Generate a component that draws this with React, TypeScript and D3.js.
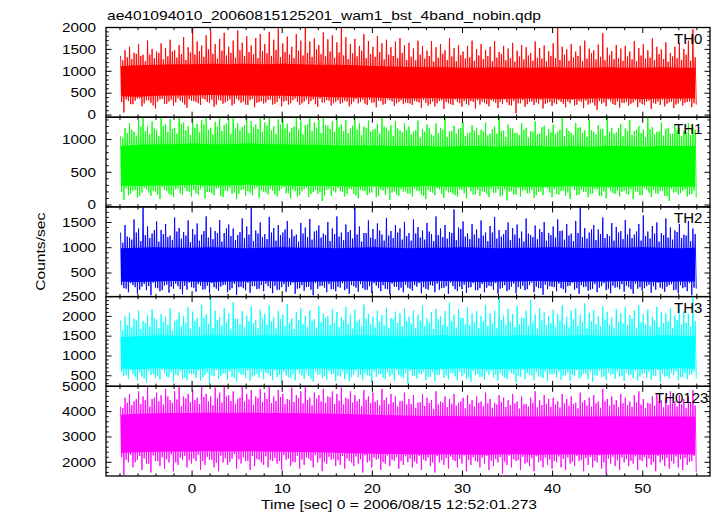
import React from 'react';
import * as d3 from 'd3';

const TITLE = 'ae401094010_20060815125201_wam1_bst_4band_nobin.qdp';
const X_LABEL = 'Time [sec] 0 = 2006/08/15 12:52:01.273';
const Y_LABEL = 'Counts/sec';
const BANDS = ['TH0', 'TH1', 'TH2', 'TH3', 'TH0123'];
const COLORS = ['#ff0000', '#00ff00', '#0000ff', '#00ffff', '#ff00ff'];
const Y_DOMAINS = [[-48, 2000], [-29, 1342], [33, 1808], [234, 2500], [1461, 5000]];
const Y_MAJOR = [[0, 500, 1000, 1500, 2000], [0, 500, 1000], [500, 1000, 1500], [500, 1000, 1500, 2000, 2500], [2000, 3000, 4000, 5000]];
const Y_MINOR_STEP = [100, 100, 100, 100, 200];
const X_DOMAIN = [-9.55, 57.46];
const X_MAJOR = [0, 10, 20, 30, 40, 50];
const X_MINOR_STEP = 2;

// per-bin extremes: bin i is centred on t = -7.75 + 0.5*i
const BIN_T0 = -7.75;
const BIN_DT = 0.5;

// dense-band core, sampled at these times
const CORE_T = [-7.9, -6, -4, -2, 0, 2, 4, 6, 8, 10, 12, 14, 16, 18, 20, 22, 24, 26, 28, 30, 32, 34, 36, 38, 40, 42, 44, 46, 48, 50, 52, 54, 55.8];

const TH0_HI = [1120, 1140, 1150, 1160, 1160, 1170, 1160, 1170, 1160, 1170, 1160, 1150, 1150, 1140, 1120, 1110, 1100, 1090, 1090, 1080, 1080, 1090, 1080, 1080, 1090, 1080, 1080, 1090, 1080, 1080, 1090, 1080, 1080];
const TH0_LO = [430, 420, 440, 450, 450, 460, 450, 450, 440, 440, 430, 420, 410, 400, 400, 390, 380, 390, 380, 380, 380, 370, 380, 380, 380, 370, 380, 380, 380, 370, 380, 380, 380];
const TH1_HI = [900, 920, 930, 930, 940, 930, 930, 940, 930, 930, 920, 920, 910, 910, 910, 900, 900, 900, 890, 900, 900, 890, 900, 900, 890, 900, 890, 900, 900, 890, 900, 900, 900];
const TH1_LO = [300, 290, 300, 300, 310, 300, 300, 310, 300, 300, 290, 290, 290, 280, 290, 280, 280, 290, 280, 280, 280, 290, 280, 280, 280, 290, 280, 280, 280, 290, 280, 280, 280];
const TH2_HI = [990, 1000, 1010, 1000, 1000, 1010, 1000, 990, 1000, 1010, 1000, 1000, 990, 1000, 1010, 1000, 990, 1000, 1000, 1010, 1000, 990, 1000, 1000, 1010, 1000, 990, 1000, 1000, 1010, 1000, 990, 1000];
const TH2_LO = [330, 320, 330, 340, 330, 320, 330, 330, 340, 330, 320, 330, 330, 340, 330, 320, 330, 330, 340, 330, 320, 330, 330, 340, 330, 320, 330, 330, 340, 330, 320, 330, 330];
const TH3_HI = [1480, 1500, 1520, 1510, 1500, 1520, 1510, 1500, 1520, 1510, 1500, 1510, 1500, 1520, 1510, 1500, 1500, 1510, 1520, 1500, 1510, 1500, 1520, 1510, 1500, 1510, 1520, 1500, 1510, 1500, 1520, 1510, 1500];
const TH3_LO = [680, 670, 690, 680, 670, 690, 680, 690, 680, 670, 680, 690, 680, 670, 680, 690, 680, 670, 680, 690, 680, 670, 680, 690, 680, 670, 680, 690, 680, 670, 680, 690, 680];
const TH0123_HI = [3880, 3920, 3940, 3950, 3950, 3960, 3950, 3960, 3950, 3950, 3940, 3930, 3920, 3900, 3880, 3860, 3840, 3830, 3830, 3820, 3820, 3810, 3820, 3810, 3820, 3820, 3810, 3820, 3820, 3810, 3820, 3810, 3800];
const TH0123_LO = [2380, 2400, 2420, 2430, 2430, 2440, 2430, 2440, 2430, 2420, 2410, 2400, 2380, 2360, 2340, 2330, 2320, 2310, 2320, 2310, 2300, 2310, 2320, 2300, 2310, 2320, 2300, 2310, 2320, 2300, 2310, 2320, 2310];

// highest spike in each bin
const TH0_PEAK = [
  1350, 1480, 1560, 1420, 1620, 1380, 1700, 1510, 1450, 1640, 1530, 1720, 1480, 1600, 1780, 1550,
  2000, 1680, 1590, 1820, 1950, 1620, 1740, 1880, 1560, 1700, 1930, 1650, 1800, 1590, 1760, 1850,
  1620, 1900, 1720, 1980, 1640, 1790, 1560, 1850, 1700, 2000, 1680, 1750, 1600, 1890, 1730, 1820,
  1660, 1990, 1780, 1620, 1740, 1580, 1850, 1690, 1560, 1800, 1640, 1720, 1550, 1680, 1760, 1590,
  1650, 1520, 1700, 1580, 1470, 1690, 1550, 1620, 1480, 1760, 1530, 1600, 1450, 1580, 1700, 1510,
  1620, 1480, 1560, 1690, 1440, 1580, 1520, 1650, 1470, 1600, 1550, 1420, 1680, 1530, 1590, 1460,
  1640, 2000, 1560, 1500, 1620, 1450, 1580, 1700, 1520, 1480, 1610, 1870, 1540, 1460, 1600, 1520,
  1580, 1450, 1690, 1530, 1620, 1480, 1750, 1560, 1500, 1660, 1420, 1560, 1640, 1510, 1700, 1960,
];
const TH0_TROUGH = [
  60, 320, 250, 380, 200, 340, 280, 150, 360, 260, 310, 220, 380, 290, 170, 330,
  300, 230, 360, 280, 190, 350, 260, 320, 220, 370, 280, 240, 340, 180, 300, 260,
  350, 240, 300, 200, 330, 270, 380, 230, 310, 250, 360, 190, 290, 340, 220, 300,
  260, 330, 200, 310, 270, 350, 230, 290, 180, 320, 260, 340, 210, 300, 250, 280,
  230, 310, 170, 280, 250, 200, 320, 140, 270, 230, 300, 190, 260, 320, 150, 240,
  280, 200, 310, 160, 250, 290, 220, 40, 270, 190, 300, 230, 260, 150, 280, 210,
  250, 300, 180, 270, 220, 320, 160, 240, 290, 120, 260, 200, 310, 230, 170, 280,
  220, 290, 180, 250, 310, 140, 260, 230, 200, 290, 160, 270, 220, 300, 180, 240,
];
// second-highest / second-lowest spike in each bin
const TH0_PEAK2 = [
  1250, 1320, 1280, 1400, 1350, 1230, 1380, 1300, 1420, 1270, 1340, 1450, 1310, 1390, 1260, 1430,
  1380, 1460, 1330, 1500, 1400, 1290, 1470, 1360, 1420, 1310, 1480, 1350, 1440, 1390, 1300, 1460,
  1410, 1350, 1490, 1320, 1440, 1380, 1300, 1470, 1360, 1420, 1330, 1500, 1390, 1340, 1450, 1310,
  1430, 1360, 1280, 1410, 1340, 1470, 1300, 1390, 1330, 1440, 1270, 1380, 1350, 1300, 1420, 1260,
  1330, 1250, 1380, 1290, 1350, 1220, 1310, 1400, 1260, 1340, 1230, 1370, 1290, 1320, 1240, 1360,
  1280, 1350, 1230, 1310, 1390, 1250, 1300, 1220, 1340, 1270, 1360, 1240, 1310, 1290, 1230, 1350,
  1300, 1260, 1380, 1240, 1320, 1350, 1230, 1290, 1410, 1270, 1330, 1250, 1370, 1280, 1300, 1240,
  1340, 1270, 1230, 1360, 1290, 1310, 1250, 1390, 1280, 1220, 1340, 1300, 1260, 1380, 1240, 1320,
];
const TH0_TROUGH2 = [
  300, 360, 250, 330, 380, 270, 340, 220, 310, 370, 260, 350, 290, 330, 240, 360,
  320, 270, 380, 300, 350, 240, 330, 290, 360, 260, 340, 310, 230, 370, 280, 320,
  290, 350, 260, 380, 310, 240, 340, 300, 270, 360, 320, 250, 380, 290, 330, 270,
  340, 280, 310, 250, 370, 300, 260, 350, 290, 330, 240, 360, 310, 270, 340, 290,
  260, 330, 290, 350, 220, 310, 270, 340, 300, 250, 360, 280, 320, 230, 300, 340,
  310, 250, 340, 280, 300, 360, 230, 320, 270, 340, 250, 310, 290, 350, 260, 300,
  280, 340, 260, 310, 350, 240, 300, 330, 270, 220, 320, 290, 360, 250, 310, 280,
  300, 260, 340, 290, 230, 330, 280, 310, 350, 260, 300, 240, 330, 280, 310, 270,
];

const TH1_PEAK = [
  1050, 1180, 1250, 1120, 1300, 1342, 1200, 1280, 1150, 1342, 1230, 1310, 1180, 1342, 1260, 1200,
  1342, 1240, 1300, 1342, 1180, 1270, 1342, 1220, 1310, 1342, 1250, 1190, 1342, 1280, 1230, 1342,
  1260, 1342, 1200, 1310, 1342, 1240, 1180, 1342, 1290, 1220, 1342, 1260, 1300, 1342, 1210, 1280,
  1342, 1230, 1300, 1170, 1342, 1250, 1200, 1290, 1150, 1240, 1342, 1180, 1220, 1280, 1140, 1250,
  1200, 1120, 1290, 1160, 1230, 1080, 1250, 1180, 1342, 1130, 1210, 1160, 1270, 1100, 1220, 1180,
  1150, 1260, 1090, 1200, 1342, 1140, 1230, 1170, 1100, 1250, 1180, 1130, 1280, 1090, 1210, 1160,
  1230, 1120, 1342, 1170, 1100, 1250, 1190, 1140, 1300, 1120, 1220, 1160, 1342, 1180, 1110, 1240,
  1170, 1300, 1130, 1210, 1150, 1342, 1190, 1120, 1260, 1160, 1090, 1230, 1180, 1130, 1250, 1200,
];
const TH1_TROUGH = [
  80, 150, 220, 110, 190, 240, 140, 200, 90, 230, 170, 120, 250, 160, 210, 130,
  180, 240, 100, 200, 150, 260, 120, 210, 170, 90, 230, 140, 190, 250, 110, 200,
  160, 220, 130, 250, 180, 100, 210, 150, 240, 120, 200, 170, 60, 230, 140, 190,
  210, 130, 250, 170, 100, 220, 150, 190, 120, 240, 160, 80, 210, 140, 200, 170,
  130, 220, 160, 90, 200, 150, 240, 110, 190, 170, 130, 230, 100, 210, 160, 140,
  200, 120, 180, 240, 150, 70, 210, 160, 130, 230, 180, 110, 200, 150, 250, 120,
  170, 210, 140, 90, 230, 160, 200, 120, 180, 240, 140, 100, 210, 170, 130, 220,
  160, 90, 200, 150, 230, 120, 180, 210, 140, 60, 190, 160, 220, 130, 170, 110,
];
const TH1_PEAK2 = [
  1020, 1100, 1150, 1060, 1200, 1130, 1080, 1170, 1050, 1210, 1120, 1160, 1090, 1240, 1140, 1070,
  1180, 1110, 1230, 1150, 1080, 1200, 1130, 1250, 1090, 1170, 1140, 1220, 1100, 1190, 1160, 1120,
  1210, 1140, 1090, 1230, 1170, 1110, 1200, 1150, 1080, 1240, 1130, 1180, 1100, 1220, 1160, 1120,
  1190, 1130, 1100, 1210, 1150, 1070, 1180, 1120, 1160, 1090, 1200, 1140, 1060, 1170, 1110, 1150,
  1080, 1140, 1030, 1120, 1170, 1060, 1100, 1150, 1040, 1130, 1090, 1180, 1050, 1110, 1140, 1070,
  1120, 1060, 1160, 1090, 1130, 1040, 1170, 1100, 1070, 1150, 1030, 1120, 1080, 1190, 1060, 1110,
  1090, 1150, 1050, 1130, 1070, 1180, 1100, 1040, 1140, 1080, 1160, 1060, 1120, 1090, 1170, 1050,
  1130, 1070, 1150, 1100, 1040, 1160, 1080, 1120, 1060, 1180, 1090, 1140, 1050, 1110, 1070, 1150,
];
const TH1_TROUGH2 = [
  200, 250, 170, 230, 140, 260, 190, 220, 160, 270, 210, 150, 240, 180, 260, 200,
  230, 160, 270, 200, 180, 250, 140, 220, 260, 190, 170, 240, 210, 150, 270, 230,
  190, 250, 160, 220, 270, 180, 240, 130, 210, 260, 170, 230, 200, 150, 250, 220,
  260, 200, 170, 240, 150, 230, 210, 180, 270, 140, 220, 250, 190, 160, 240, 210,
  180, 250, 210, 140, 230, 190, 260, 170, 220, 200, 150, 240, 180, 270, 160, 230,
  210, 170, 250, 190, 130, 240, 200, 160, 260, 220, 180, 230, 150, 210, 270, 190,
  240, 160, 220, 190, 270, 150, 230, 200, 170, 250, 140, 210, 260, 180, 220, 200,
  170, 240, 210, 150, 260, 190, 230, 170, 220, 140, 250, 200, 180, 240, 160, 220,
];

const TH2_PEAK = [
  1300, 1450, 1200, 1560, 1380, 1800, 1420, 1280, 1520, 1350, 1470, 1240, 1600, 1390, 1310, 1540,
  1370, 1480, 1260, 1620, 1400, 1330, 1550, 1290, 1460, 1380, 1250, 1580, 1420, 1800, 1340, 1500,
  1270, 1610, 1390, 1450, 1300, 1530, 1360, 1260, 1490, 1400, 1570, 1320, 1440, 1280, 1510, 1380,
  1620, 1300, 1460, 1350, 1800, 1420, 1290, 1540, 1370, 1480, 1260, 1590, 1330, 1450, 1380, 1510,
  1290, 1560, 1410, 1340, 1490, 1270, 1620, 1380, 1450, 1310, 1760, 1400, 1520, 1280, 1470, 1360,
  1540, 1300, 1430, 1610, 1350, 1270, 1500, 1390, 1460, 1320, 1580, 1250, 1440, 1370, 1510, 1290,
  1420, 1560, 1340, 1470, 1280, 1530, 1800, 1390, 1300, 1450, 1360, 1600, 1270, 1490, 1410, 1330,
  1550, 1380, 1260, 1470, 1640, 1320, 1430, 1500, 1290, 1580, 1400, 1340, 1470, 1260, 1530, 1380,
];
const TH2_TROUGH = [
  200, 120, 260, 90, 230, 160, 60, 210, 140, 250, 110, 190, 240, 80, 170, 220,
  130, 250, 180, 100, 220, 150, 260, 120, 200, 70, 230, 160, 110, 240, 190, 140,
  240, 100, 170, 220, 130, 260, 90, 200, 150, 230, 60, 190, 250, 120, 180, 140,
  210, 160, 90, 240, 130, 200, 170, 110, 250, 140, 190, 80, 230, 160, 120, 210,
  150, 230, 100, 190, 260, 120, 170, 210, 90, 240, 140, 180, 110, 220, 160, 200,
  120, 250, 170, 90, 210, 140, 230, 100, 190, 160, 260, 120, 200, 70, 180, 230,
  140, 200, 110, 250, 170, 90, 220, 150, 190, 120, 240, 160, 100, 210, 180, 130,
  220, 90, 190, 150, 240, 110, 170, 210, 130, 260, 160, 100, 200, 140, 60, 190,
];
const TH2_PEAK2 = [
  1100, 1220, 1160, 1300, 1130, 1250, 1190, 1350, 1120, 1270, 1210, 1150, 1320, 1180, 1240, 1110,
  1260, 1140, 1330, 1200, 1170, 1290, 1120, 1380, 1230, 1150, 1310, 1190, 1260, 1130, 1280, 1210,
  1170, 1300, 1140, 1250, 1360, 1190, 1230, 1120, 1280, 1210, 1160, 1340, 1200, 1250, 1130, 1270,
  1220, 1150, 1310, 1180, 1260, 1120, 1290, 1200, 1170, 1340, 1140, 1240, 1190, 1300, 1160, 1230,
  1140, 1280, 1200, 1160, 1320, 1130, 1250, 1210, 1180, 1290, 1150, 1370, 1220, 1170, 1260, 1190,
  1240, 1130, 1300, 1180, 1220, 1350, 1150, 1260, 1190, 1120, 1280, 1210, 1170, 1310, 1140, 1250,
  1200, 1330, 1160, 1240, 1130, 1290, 1210, 1180, 1360, 1150, 1270, 1190, 1230, 1140, 1300, 1170,
  1260, 1190, 1320, 1140, 1230, 1180, 1280, 1120, 1250, 1200, 1160, 1310, 1190, 1240, 1130, 1270,
];
const TH2_TROUGH2 = [
  260, 190, 300, 220, 170, 280, 240, 310, 200, 160, 270, 230, 290, 180, 250, 310,
  210, 280, 170, 250, 300, 190, 230, 270, 160, 290, 220, 200, 310, 240, 180, 260,
  290, 200, 250, 170, 280, 230, 310, 190, 260, 220, 170, 300, 240, 210, 280, 180,
  230, 300, 190, 260, 210, 280, 170, 240, 300, 200, 260, 180, 290, 230, 210, 270,
  190, 260, 300, 220, 170, 250, 290, 200, 240, 310, 180, 230, 270, 210, 300, 160,
  280, 210, 240, 300, 190, 260, 170, 290, 220, 250, 180, 310, 230, 200, 270, 240,
  220, 290, 180, 240, 310, 200, 260, 230, 170, 280, 210, 300, 190, 250, 220, 280,
  250, 180, 290, 220, 200, 270, 240, 310, 190, 230, 280, 170, 260, 220, 300, 210,
];

const TH3_PEAK = [
  1900, 2000, 2080, 1950, 2150, 1880, 2030, 2180, 1920, 2060, 1990, 2200, 1870, 2100, 2010, 2230,
  2120, 1960, 2290, 2050, 2500, 2140, 1980, 2210, 2070, 2360, 1940, 2130, 2020, 2250, 1910, 2170,
  2060, 2280, 1970, 2140, 2040, 2310, 1950, 2100, 2200, 2020, 2160, 1930, 2260, 2080, 2010, 2190,
  2110, 1980, 2240, 2050, 2170, 1920, 2300, 2060, 1990, 2150, 2030, 2220, 1960, 2120, 2080, 2200,
  1990, 2160, 2040, 2270, 1950, 2110, 2190, 2000, 2130, 2350, 2040, 2180, 1960, 2230, 2070, 2140,
  2010, 2290, 2080, 2150, 2500, 2020, 2190, 2060, 2260, 1980, 2140, 2420, 2050, 2200, 2100, 2010,
  2170, 2060, 2280, 1990, 2140, 2210, 2040, 2330, 2090, 2160, 2010, 2250, 2120, 1970, 2190, 2080,
  2230, 2030, 2150, 2280, 2060, 2180, 1990, 2240, 2110, 2070, 2200, 2020, 2310, 2130, 2060, 2500,
];
const TH3_TROUGH = [
  500, 420, 550, 380, 480, 330, 520, 440, 400, 560, 460, 350, 510, 430, 390, 540,
  450, 380, 520, 300, 490, 420, 560, 400, 470, 350, 530, 440, 380, 510, 460, 410,
  540, 390, 470, 330, 510, 440, 380, 560, 420, 490, 350, 520, 450, 400, 540, 370,
  480, 420, 360, 530, 460, 400, 510, 340, 470, 550, 410, 480, 380, 520, 440, 300,
  500, 430, 540, 390, 470, 360, 520, 450, 410, 560, 380, 490, 430, 350, 510, 460,
  400, 530, 450, 380, 500, 420, 560, 340, 470, 410, 520, 390, 480, 440, 360, 530,
  460, 400, 510, 370, 490, 430, 550, 410, 350, 500, 460, 390, 530, 420, 480, 370,
  510, 440, 380, 540, 460, 400, 500, 350, 480, 430, 520, 390, 460, 410, 540, 430,
];
const TH3_PEAK2 = [
  1650, 1780, 1720, 1900, 1680, 1830, 1750, 1950, 1700, 1860, 1790, 1640, 1920, 1760, 1840, 1690,
  1880, 1740, 1970, 1810, 1700, 1900, 1770, 1850, 1660, 1940, 1800, 1730, 1880, 1820, 1710, 1960,
  1790, 1870, 1700, 1930, 1760, 1840, 1680, 1910, 1800, 1740, 1890, 1720, 1850, 1960, 1780, 1830,
  1730, 1900, 1810, 1690, 1870, 1760, 1940, 1800, 1720, 1860, 1780, 1700, 1920, 1830, 1750, 1880,
  1810, 1700, 1890, 1760, 1840, 1680, 1930, 1790, 1740, 1870, 1720, 1960, 1800, 1770, 1850, 1710,
  1880, 1750, 1820, 1700, 1910, 1790, 1860, 1730, 1800, 1950, 1760, 1840, 1690, 1900, 1780, 1830,
  1740, 1890, 1800, 1720, 1930, 1770, 1850, 1690, 1880, 1810, 1750, 1920, 1790, 1700, 1860, 1820,
  1780, 1940, 1710, 1850, 1800, 1760, 1900, 1730, 1830, 1870, 1700, 1910, 1790, 1840, 1750, 1880,
];
const TH3_TROUGH2 = [
  600, 520, 640, 480, 580, 430, 620, 550, 500, 650, 470, 590, 530, 610, 450, 570,
  540, 620, 460, 590, 510, 640, 490, 560, 610, 440, 580, 530, 630, 480, 550, 600,
  570, 490, 630, 520, 600, 460, 550, 640, 510, 580, 430, 610, 540, 490, 620, 560,
  510, 600, 550, 470, 630, 520, 580, 490, 610, 540, 450, 590, 530, 640, 480, 570,
  620, 500, 560, 610, 470, 590, 530, 640, 510, 570, 490, 600, 550, 460, 620, 540,
  480, 590, 630, 520, 560, 450, 610, 540, 500, 640, 570, 510, 590, 470, 600, 550,
  560, 610, 490, 580, 530, 640, 470, 550, 600, 520, 630, 480, 570, 540, 610, 500,
  590, 530, 620, 480, 570, 600, 510, 640, 550, 490, 580, 620, 460, 570, 530, 610,
];

const TH0123_PEAK = [
  4200, 4550, 4700, 4400, 4800, 4600, 5000, 4500, 4750, 4650, 4900, 4450, 4800, 5000, 4600, 4700,
  4850, 4550, 5000, 4700, 4600, 4950, 4750, 5000, 4650, 4800, 4500, 5000, 4700, 4850, 4600, 4900,
  4750, 5000, 4600, 4850, 4700, 4500, 4950, 4650, 4800, 5000, 4550, 4750, 4650, 4900, 4600, 4800,
  4700, 4950, 4550, 4800, 4650, 4500, 4850, 4600, 4750, 4450, 4900, 4550, 4700, 4600, 4400, 4750,
  4500, 4650, 4350, 4700, 4550, 4450, 4800, 4400, 4600, 4500, 4700, 4350, 4550, 4650, 4450, 4600,
  4400, 4750, 4500, 4350, 4650, 4550, 4450, 4700, 4400, 4600, 4300, 4550, 4800, 4450, 4650, 4500,
  4550, 4400, 4700, 4500, 4600, 4350, 4750, 4450, 4550, 4650, 4400, 4900, 4500, 4600, 4450, 4700,
  4550, 4400, 4650, 4800, 4500, 4350, 4600, 4700, 4450, 4550, 4800, 4400, 4650, 4500, 4600, 4850,
];
const TH0123_TROUGH = [
  1500, 2000, 1800, 2100, 1700, 1950, 1600, 2050, 1850, 1750, 2000, 1650, 1900, 2100, 1800, 1950,
  2050, 1700, 1900, 2100, 1800, 1650, 2000, 1900, 2150, 1750, 1950, 2050, 1700, 1850, 2100, 1900,
  1800, 2050, 1950, 1700, 2100, 1850, 2000, 1750, 1900, 2150, 1800, 2000, 1650, 1950, 2100, 1850,
  1900, 1750, 2050, 1850, 1950, 1600, 2000, 1800, 2100, 1700, 1950, 1850, 2050, 1750, 1900, 2000,
  1800, 1950, 1700, 2050, 1850, 1600, 2000, 1900, 1750, 2100, 1800, 1950, 1650, 1900, 2050, 1800,
  1950, 1700, 1850, 2000, 1550, 1900, 1800, 2050, 1700, 1950, 1850, 1650, 2000, 1800, 1900, 1750,
  2000, 1800, 1700, 1950, 1850, 2050, 1650, 1900, 1800, 2000, 1750, 1550, 1950, 1850, 1700, 2000,
  1850, 1950, 1700, 2050, 1800, 1900, 1650, 2000, 1850, 1750, 1950, 1800, 1700, 1900, 2050, 1600,
];
const TH0123_PEAK2 = [
  4150, 4350, 4250, 4500, 4300, 4450, 4200, 4550, 4400, 4280, 4600, 4350, 4480, 4220, 4520, 4380,
  4450, 4300, 4580, 4400, 4250, 4520, 4360, 4600, 4420, 4310, 4550, 4400, 4480, 4270, 4530, 4390,
  4500, 4340, 4420, 4580, 4290, 4470, 4380, 4540, 4320, 4460, 4250, 4510, 4400, 4350, 4560, 4300,
  4430, 4280, 4500, 4360, 4410, 4220, 4470, 4330, 4390, 4250, 4450, 4300, 4370, 4200, 4420, 4280,
  4300, 4150, 4380, 4220, 4340, 4100, 4280, 4360, 4180, 4310, 4240, 4400, 4130, 4290, 4200, 4350,
  4220, 4330, 4150, 4280, 4380, 4180, 4250, 4320, 4120, 4290, 4200, 4350, 4170, 4260, 4310, 4190,
  4280, 4160, 4340, 4220, 4300, 4130, 4370, 4240, 4190, 4320, 4150, 4400, 4230, 4280, 4180, 4330,
  4250, 4190, 4360, 4280, 4140, 4310, 4230, 4390, 4170, 4260, 4330, 4200, 4290, 4150, 4350, 4240,
];
const TH0123_TROUGH2 = [
  2200, 2100, 2300, 2000, 2250, 2150, 1950, 2280, 2050, 2200, 2120, 2320, 2000, 2180, 2260, 2080,
  2150, 2300, 2050, 2220, 2100, 1980, 2270, 2160, 2020, 2330, 2120, 2200, 2060, 2250, 2140, 2000,
  2240, 2100, 2180, 2050, 2300, 2150, 2020, 2260, 2110, 2200, 2070, 2290, 2160, 2030, 2220, 2130,
  2080, 2250, 2150, 2000, 2230, 2120, 2280, 2060, 2190, 2140, 2010, 2270, 2100, 2200, 2050, 2240,
  2150, 2030, 2260, 2110, 2190, 2000, 2240, 2080, 2170, 2230, 2050, 2140, 2280, 2090, 2200, 2020,
  2180, 2250, 2060, 2130, 2210, 2030, 2270, 2120, 2090, 2220, 2000, 2160, 2240, 2070, 2190, 2110,
  2050, 2230, 2140, 2190, 2020, 2260, 2100, 2170, 2210, 2060, 2280, 2000, 2150, 2220, 2080, 2190,
  2130, 2060, 2240, 2100, 2200, 2150, 2010, 2250, 2090, 2180, 2050, 2230, 2120, 2170, 2020, 2260,
];

const PEAKS = [TH0_PEAK, TH1_PEAK, TH2_PEAK, TH3_PEAK, TH0123_PEAK];
const TROUGHS = [TH0_TROUGH, TH1_TROUGH, TH2_TROUGH, TH3_TROUGH, TH0123_TROUGH];
const PEAKS2 = [TH0_PEAK2, TH1_PEAK2, TH2_PEAK2, TH3_PEAK2, TH0123_PEAK2];
const TROUGHS2 = [TH0_TROUGH2, TH1_TROUGH2, TH2_TROUGH2, TH3_TROUGH2, TH0123_TROUGH2];
const CORE_HI = [TH0_HI, TH1_HI, TH2_HI, TH3_HI, TH0123_HI];
const CORE_LO = [TH0_LO, TH1_LO, TH2_LO, TH3_LO, TH0123_LO];

const W = 717;
const H = 516;
const LEFT = 106;
const RIGHT = 710;
const TOP = 27.5;
const PANEL_H = 89.7;
const FONT = "'Liberation Sans', Arial, Helvetica, sans-serif";
const DIGIT_W = 8.5;

export default function App() {
  const x = d3.scaleLinear().domain(X_DOMAIN).range([LEFT, RIGHT]);
  const xMinor = d3.range(Math.ceil(X_DOMAIN[0] / X_MINOR_STEP) * X_MINOR_STEP, X_DOMAIN[1] + 1e-9, X_MINOR_STEP);
  const bottom = TOP + PANEL_H * BANDS.length;

  return (
    <svg width={W} height={H} style={{ position: 'absolute', left: 0, top: 0, background: '#fff' }} fontFamily={FONT}>
      <defs>
        {BANDS.map((b, p) => (
          <clipPath id={`clip${p}`} key={b}>
            <rect x={LEFT} y={TOP + p * PANEL_H} width={RIGHT - LEFT} height={PANEL_H} />
          </clipPath>
        ))}
      </defs>
      <rect x={0} y={0} width={W} height={H} fill="#fff" />
      {BANDS.map((band, p) => {
        const y0 = TOP + p * PANEL_H;
        const y = d3.scaleLinear().domain(Y_DOMAINS[p]).range([y0 + PANEL_H, y0]);
        const pts: [number, number][] = [];
        PEAKS[p].forEach((v, i) => {
          const t = BIN_T0 + BIN_DT * i;
          pts.push([t - BIN_DT * 0.375, v]);
          pts.push([t - BIN_DT * 0.125, TROUGHS2[p][i]]);
          pts.push([t + BIN_DT * 0.125, PEAKS2[p][i]]);
          pts.push([t + BIN_DT * 0.375, TROUGHS[p][i]]);
        });
        const line = d3.line<[number, number]>().x((d) => x(d[0])).y((d) => y(d[1]));
        const area = d3
          .area<number>()
          .x((_, i) => x(CORE_T[i]))
          .y0((_, i) => y(CORE_LO[p][i]))
          .y1((d) => y(d));
        const [dmin, dmax] = Y_DOMAINS[p];
        const step = Y_MINOR_STEP[p];
        const yMinor = d3.range(Math.ceil(dmin / step) * step, dmax + 1e-9, step);
        return (
          <g key={band}>
            <g clipPath={`url(#clip${p})`}>
              <path d={area(CORE_HI[p]) || ''} fill={COLORS[p]} />
              <path d={line(pts) || ''} fill="none" stroke={COLORS[p]} strokeWidth={0.9} strokeLinejoin="miter" strokeMiterlimit={2} />
            </g>
            {xMinor.map((t) => {
              const major = X_MAJOR.includes(Math.round(t)) && Math.abs(t - Math.round(t)) < 1e-6;
              const len = major ? 5.5 : 2.7;
              return (
                <g key={`xt${t}`} stroke="#000" strokeWidth={1}>
                  <line x1={x(t)} x2={x(t)} y1={y0} y2={y0 + len} />
                  <line x1={x(t)} x2={x(t)} y1={y0 + PANEL_H} y2={y0 + PANEL_H - len} />
                </g>
              );
            })}
            {yMinor.map((v) => {
              const major = Y_MAJOR[p].includes(v);
              const len = major ? 5.5 : 2.7;
              return (
                <g key={`yt${v}`} stroke="#000" strokeWidth={1}>
                  <line x1={LEFT} x2={LEFT + len} y1={y(v)} y2={y(v)} />
                  <line x1={RIGHT} x2={RIGHT - len} y1={y(v)} y2={y(v)} />
                </g>
              );
            })}
            {Y_MAJOR[p].map((v) => {
              const s = String(v);
              return (
                <text
                  key={`yl${v}`}
                  x={96}
                  y={y(v) + 4.3}
                  fontSize={12}
                  textAnchor="end"
                  textLength={s.length * DIGIT_W}
                  lengthAdjust="spacingAndGlyphs"
                  fill="#000"
                >
                  {s}
                </text>
              );
            })}
            <rect x={LEFT} y={y0} width={RIGHT - LEFT} height={PANEL_H} fill="none" stroke="#000" strokeWidth={1.3} />
            <text x={p === 4 ? 655 : 674} y={y0 + 16.3} fontSize={15} fill="#000">
              {band}
            </text>
          </g>
        );
      })}
      {X_MAJOR.map((t) => {
        const s = String(t);
        return (
          <text
            key={`xl${t}`}
            x={x(t)}
            y={493}
            fontSize={12.5}
            textAnchor="middle"
            textLength={s.length * DIGIT_W}
            lengthAdjust="spacingAndGlyphs"
            fill="#000"
          >
            {s}
          </text>
        );
      })}
      <text x={107} y={20} fontSize={12.6} textLength={434} lengthAdjust="spacingAndGlyphs" fill="#000">
        {TITLE}
      </text>
      <text x={399} y={508.5} fontSize={12.6} textAnchor="middle" textLength={276} lengthAdjust="spacingAndGlyphs" fill="#000">
        {X_LABEL}
      </text>
      <text
        transform={`translate(45, ${(TOP + bottom) / 2}) rotate(-90)`}
        fontSize={12.6}
        textAnchor="middle"
        textLength={78}
        lengthAdjust="spacingAndGlyphs"
        fill="#000"
      >
        {Y_LABEL}
      </text>
    </svg>
  );
}
